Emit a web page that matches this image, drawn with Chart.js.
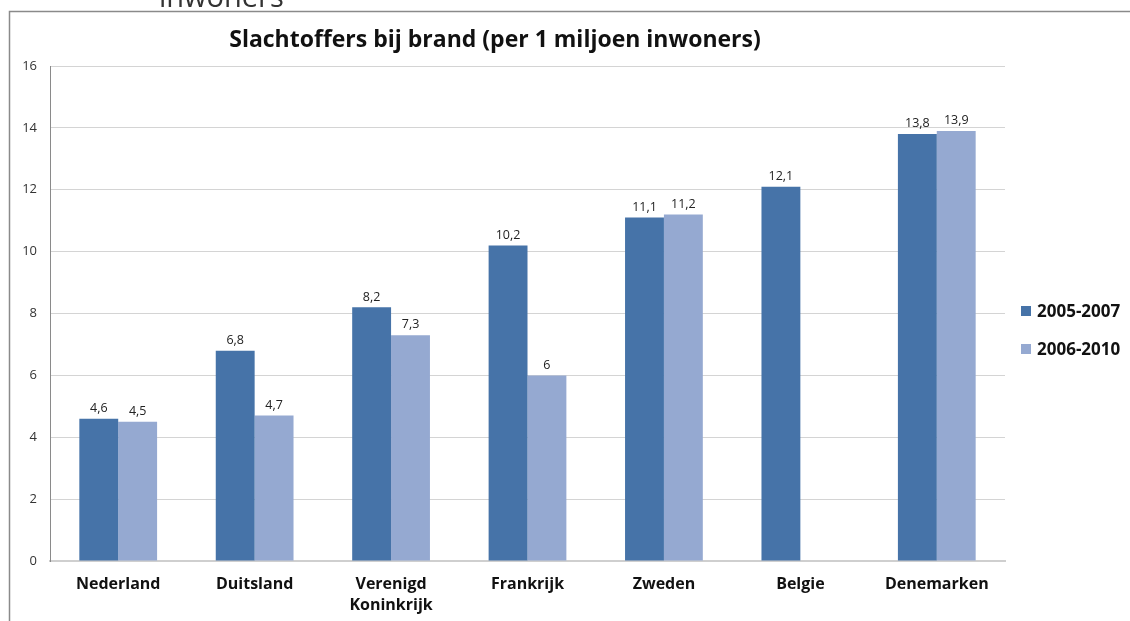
<!DOCTYPE html>
<html>
<head>
<meta charset="utf-8">
<script src="https://cdn.jsdelivr.net/npm/chart.js@4.4.1/dist/chart.umd.min.js"></script>
<style>
  html, body { margin: 0; padding: 0; background: #fff; }
  #wrap { width: 1130px; height: 621px; position: relative; }
</style>
</head>
<body>
<div id="wrap"><canvas id="chart" width="1130" height="621"></canvas></div>
<script>
const countries = ['Nederland', 'Duitsland', ['Verenigd', 'Koninkrijk'], 'Frankrijk', 'Zweden', 'Belgie', 'Denemarken'];
const series1 = [4.6, 6.8, 8.2, 10.2, 11.1, 12.1, 13.8];
const series2 = [4.5, 4.7, 7.3, 6, 11.2, null, 13.9];
const seriesNames = ['2005-2007', '2006-2010'];
const yTicks = [0, 2, 4, 6, 8, 10, 12, 14, 16];

const dark = '#4673a8';
const light = '#95a9d1';
const font = "'Open Sans', 'Liberation Sans', sans-serif";

// frame, cut-off heading, title, legend and value labels
const extras = {
    id: 'extras',
    afterDraw(chart) {
        const ctx = chart.ctx;
        ctx.save();
        // frame of the chart box
        ctx.strokeStyle = '#8a8a8a';
        ctx.lineWidth = 1.5;
        ctx.beginPath();
        ctx.moveTo(9.5, 621);
        ctx.lineTo(9.5, 11.5);
        ctx.lineTo(1130, 11.5);
        ctx.stroke();

        // text of the page above, cut off
        ctx.fillStyle = '#333';
        ctx.font = '29px ' + font;
        ctx.textAlign = 'left';
        ctx.textBaseline = 'alphabetic';
        ctx.fillText('inwoners', 159, 7);

        // title
        ctx.fillStyle = '#111';
        ctx.font = 'bold 23px ' + font;
        ctx.textAlign = 'center';
        ctx.textBaseline = 'middle';
        ctx.fillText('Slachtoffers bij brand (per 1 miljoen inwoners)', 495, 40);

        // legend
        const colors = [dark, light];
        ctx.font = 'bold 17px ' + font;
        ctx.textAlign = 'left';
        seriesNames.forEach((n, i) => {
            const y = 311 + i * 38;
            ctx.fillStyle = colors[i];
            ctx.fillRect(1021, y - 5, 10, 10);
            ctx.fillStyle = '#111';
            ctx.fillText(n, 1037, y + 1);
        });

        // value labels
        ctx.font = '12.5px ' + font;
        ctx.fillStyle = '#222';
        ctx.textAlign = 'center';
        ctx.textBaseline = 'bottom';
        chart.data.datasets.forEach((ds, di) => {
            const meta = chart.getDatasetMeta(di);
            meta.data.forEach((bar, i) => {
                const v = ds.data[i];
                if (v == null) return;
                ctx.fillText(String(v).replace('.', ','), bar.x, bar.y - 4);
            });
        });
        ctx.restore();
    }
};

new Chart(document.getElementById('chart'), {
    type: 'bar',
    data: {
        labels: countries,
        datasets: [
            { label: seriesNames[0], data: series1, backgroundColor: dark, barPercentage: 1, categoryPercentage: 0.57 },
            { label: seriesNames[1], data: series2, backgroundColor: light, barPercentage: 1, categoryPercentage: 0.57 }
        ]
    },
    options: {
        responsive: false,
        animation: false,
        layout: { padding: { top: 66, right: 125, left: 0, bottom: 0 } },
        plugins: {
            legend: { display: false },
            title: { display: false },
            tooltip: { enabled: false }
        },
        scales: {
            x: {
                grid: { display: false, drawTicks: false },
                border: { color: '#cfcfcf', width: 2 },
                ticks: {
                    color: '#111',
                    font: { family: font, size: 16, weight: 'bold', lineHeight: 1.3 },
                    padding: 13,
                    maxRotation: 0,
                    autoSkip: false
                },
                afterFit(scale) { scale.height = 60; }
            },
            y: {
                min: 0,
                max: 16,
                afterBuildTicks(scale) { scale.ticks = yTicks.map(v => ({ value: v })); },
                grid: { color: '#d4d4d4', drawTicks: false },
                border: { color: '#8a8a8a', width: 1 },
                ticks: {
                    color: '#333',
                    font: { family: font, size: 13 },
                    padding: 13
                },
                afterFit(scale) { scale.width = 50; }
            }
        }
    },
    plugins: [extras]
});
</script>
</body>
</html>
